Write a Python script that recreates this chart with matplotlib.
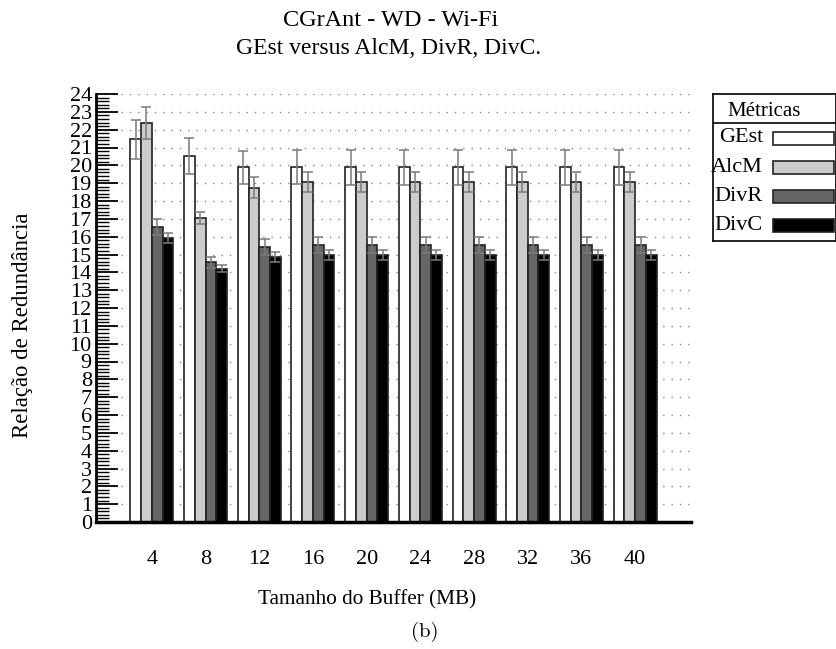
import numpy as np
import matplotlib
matplotlib.use("Agg")
import matplotlib.pyplot as plt
from matplotlib.patches import Rectangle
from matplotlib.ticker import MultipleLocator

plt.rcParams['font.family'] = ['Liberation Serif', 'DejaVu Serif']

# data
buffers = ['4', '8', '12', '16', '20', '24', '28', '32', '36', '40']
metrics = ['GEst', 'AlcM', 'DivR', 'DivC']
colors = ['#ffffff', '#cccccc', '#666666', '#000000']

gest = [21.46, 20.54, 19.89, 19.89, 19.89, 19.89, 19.89, 19.89, 19.89, 19.89]
alcm = [22.38, 17.05, 18.75, 19.07, 19.07, 19.07, 19.07, 19.07, 19.07, 19.07]
divr = [16.53, 14.57, 15.41, 15.55, 15.55, 15.55, 15.55, 15.55, 15.55, 15.55]
divc = [15.94, 14.21, 14.88, 14.97, 14.97, 14.97, 14.97, 14.97, 14.97, 14.97]

gest_err = [1.09, 1.00, 0.92, 0.95, 0.97, 0.97, 0.97, 0.97, 0.97, 0.97]
alcm_err = [0.88, 0.35, 0.60, 0.55, 0.55, 0.55, 0.55, 0.55, 0.55, 0.55]
divr_err = [0.45, 0.30, 0.45, 0.45, 0.45, 0.45, 0.45, 0.45, 0.45, 0.45]
divc_err = [0.28, 0.20, 0.28, 0.29, 0.29, 0.29, 0.29, 0.29, 0.29, 0.29]

series = [gest, alcm, divr, divc]
errors = [gest_err, alcm_err, divr_err, divc_err]

fig = plt.figure(figsize=(8.36, 6.49), dpi=100)
ax = fig.add_axes([96/836, 1-522/649, (691-96)/836, (522-94)/649])

x = np.arange(len(buffers))
w = 0.2
for i in range(len(metrics)):
    pos = x + (i - 1.5)*w
    ax.bar(pos, series[i], w, color=colors[i], edgecolor='#222222', linewidth=1.2, zorder=2)
    ax.errorbar(pos, series[i], yerr=errors[i], fmt='none', ecolor='#7a7a7a',
                elinewidth=1.1, capsize=3.6, capthick=1.1, zorder=3)

ax.set_xlim(-1.04, 10.04)
ax.set_ylim(0, 24)
ax.set_xticks(x)
ax.set_xticklabels(buffers, fontsize=16)
ax.yaxis.set_major_locator(MultipleLocator(1))
ax.yaxis.set_minor_locator(MultipleLocator(0.2))
ax.tick_params(axis='y', which='major', direction='in', length=16, width=1.3, labelsize=16, pad=3)
ax.tick_params(axis='y', which='minor', direction='in', length=9, width=1.0)
ax.tick_params(axis='x', length=0, pad=20)
for s in ['top', 'right']:
    ax.spines[s].set_visible(False)
ax.spines['left'].set_linewidth(2)
ax.spines['bottom'].set_linewidth(2.5)
ax.yaxis.grid(True, linestyle=(0, (1, 5)), color='#888888', linewidth=1)
ax.set_axisbelow(True)

ax.set_xlabel('Tamanho do Buffer (MB)', fontsize=15.3)
ax.xaxis.set_label_coords(0.455, -0.158)
ax.set_ylabel('Relação de Redundância', fontsize=16.4)
ax.yaxis.set_label_coords(-0.106, 0.46)

fig.text(391/836, 1-21/649, 'CGrAnt - WD - Wi-Fi', ha='center', va='center', fontsize=17.5)
fig.text(389/836, 1-49/649, 'GEst versus AlcM, DivR, DivC.', ha='center', va='center', fontsize=17)
fig.text(425/836, 1-632/649, '(b)', ha='center', va='center', fontsize=15, family='cmr10')

# legend box
lg = fig.add_axes([713/836, 1-241/649, 123/836, 147/649])
lg.set_xlim(0, 123)
lg.set_ylim(147, 0)
lg.set_xticks([])
lg.set_yticks([])
for s in lg.spines.values():
    s.set_linewidth(1.2)
lg.axhline(29, color='black', linewidth=1.2)
lg.text(51, 17, 'Métricas', ha='center', va='center', fontsize=15)
for i in range(len(metrics)):
    yy = 44 + i*29
    lg.text(50, yy, metrics[i], ha='right', va='center', fontsize=16)
    lg.add_patch(Rectangle((60, yy-6.5), 61, 13, facecolor=colors[i], edgecolor='#222222', linewidth=1.2))

fig.savefig('out.png', dpi=100)
